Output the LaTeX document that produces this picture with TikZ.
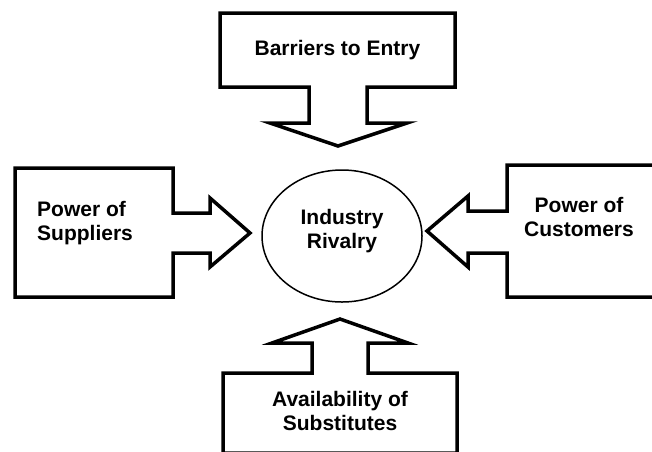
\documentclass[tikz,border=0pt]{standalone}
\usepackage{fontspec}
\setmainfont{Liberation Sans}
\usetikzlibrary{shapes,positioning}
\tikzstyle{Force}  = [draw, line width=3.5pt, fill=white]
\tikzstyle{Label}  = [font=\fontsize{21}{24}\selectfont\bfseries, inner sep=0pt]
\tikzstyle{Center} = [draw, ellipse, line width=1.5pt, minimum width=160pt, minimum height=132pt]

\begin{document}
\begin{tikzpicture}[x=1pt, y=-1pt]
    \useasboundingbox (0,0) rectangle (652,451);
    \clip (0,0) rectangle (652,451);

    % the four forces, each a box with a block arrow
    \draw[Force] (220,13) -- (455,13) -- (455,87) -- (367,87) -- (367,123) -- (407,123)
        -- (338,146) -- (270,123) -- (309,123) -- (309,87) -- (220,87) -- cycle;
    \draw[Force] (15,168) -- (173,168) -- (173,213) -- (210,213) -- (210,198)
        -- (250,233) -- (210,267) -- (210,253) -- (173,253) -- (173,297) -- (15,297) -- cycle;
    \draw[Force] (662,165) -- (507,165) -- (507,211) -- (468,211) -- (468,196)
        -- (427,231) -- (468,267) -- (468,253) -- (507,253) -- (507,297) -- (662,297) -- cycle;
    \draw[Force] (223,453) -- (223,373) -- (312,373) -- (312,343) -- (272,343)
        -- (340,319) -- (408,343) -- (368,343) -- (368,373) -- (457,373) -- (457,453) -- cycle;

    \node[Center] (rivalry) at (342,236) {};
    \node[Label, align=center, yshift=5pt] (rivalrytext) at (rivalry) {Industry\\Rivalry};

    \node[Label, anchor=base]                      (barriers)    at (337.5,55) {Barriers to Entry};
    \node[Label, anchor=north west, align=left]    (suppliers)   at (37,201)   {Power of\\Suppliers};
    \node[Label, anchor=north, align=center]       (customers)   at (579,197)  {Power of\\Customers};
    \node[Label, anchor=north, align=center]       (substitutes) at (340,391)  {Availability of\\Substitutes};
\end{tikzpicture}
\end{document}
